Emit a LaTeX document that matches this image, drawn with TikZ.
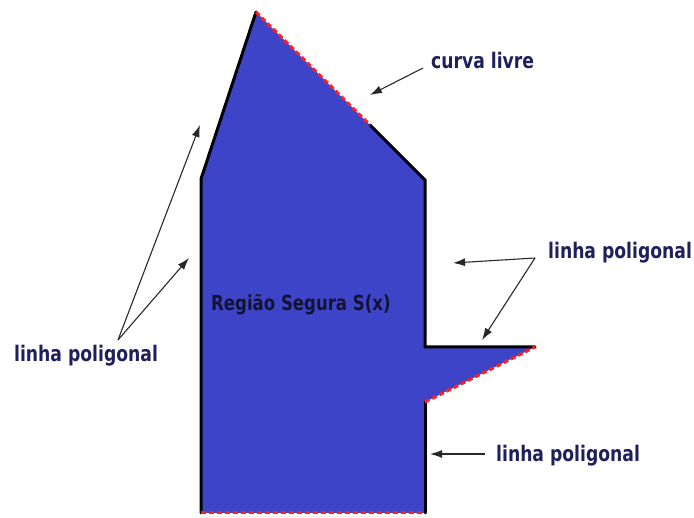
\documentclass[tikz,border=0pt]{standalone}
\usepackage{fontspec}
\setmainfont{DejaVu Sans}[FakeStretch=0.8]
\usetikzlibrary{arrows.meta}
\definecolor{regfill}{RGB}{61,68,200}
\definecolor{labtxt}{RGB}{30,32,90}
\definecolor{regtxt}{RGB}{20,20,50}
\definecolor{arrgray}{RGB}{40,40,40}
\definecolor{freered}{RGB}{255,30,30}
\tikzset{
  solidedge/.style={black, line width=3pt, line cap=round, line join=miter},
  freeedge/.style={freered, line width=3pt, dash pattern=on 5pt off 3pt},
  pointer/.style={arrgray, line width=1.1pt, -{Latex[length=12pt,width=8pt]}},
  lab/.style={text=labtxt, font=\bfseries\fontsize{21.5}{25}\selectfont, inner sep=0pt, anchor=base west},
}
\begin{document}
\begin{tikzpicture}[x=1pt,y=-1pt]
\useasboundingbox (0,0) rectangle (694,518);
% polygon vertices
\coordinate (apex) at (256,12);
\coordinate (shl) at (201,179);
\coordinate (bl) at (201,513);
\coordinate (br) at (425,513);
\coordinate (rl) at (425,402);
\coordinate (tip) at (535,347);
\coordinate (step) at (425,347);
\coordinate (ur) at (425,180);
\coordinate (sm) at (370,125);
\fill[regfill] (apex) -- (shl) -- (bl) -- (br) -- (rl) -- (tip) -- (step) -- (ur) -- (sm) -- cycle;
\draw[solidedge] (sm) -- (ur) -- (step) -- (tip);
\draw[solidedge] (apex) -- (shl) -- (bl);
\draw[solidedge] (br) -- (rl);
\draw[freeedge] (apex) -- (sm);
\draw[freeedge] (rl) -- (tip);
\draw[freeedge] (bl) -- (br);
% labels
\node[lab] (curva) at (431,69) {curva livre};
\node[lab] (lpr) at (548,259) {linha poligonal};
\node[lab] (lpl) at (14,362) {linha poligonal};
\node[lab] (lpb) at (496,462) {linha poligonal};
\node[text=regtxt, font=\bfseries\fontsize{20.7}{24}\selectfont, inner sep=0pt, anchor=base west] (reg) at (211,311) {Região Segura S(x)};
% arrow origins and targets
\coordinate (oc) at (423,68);
\coordinate (tc) at (370,95);
\coordinate (or) at (535,258);
\coordinate (tr1) at (453,263);
\coordinate (tr2) at (482,340);
\coordinate (ol) at (118,340);
\coordinate (tl1) at (200,125);
\coordinate (tl2) at (189,258);
\coordinate (ob) at (485,454);
\coordinate (tb) at (430,454);
\draw[pointer] (oc) -- (tc);
\draw[pointer] (or) -- (tr1);
\draw[pointer] (or) -- (tr2);
\draw[pointer] (ol) -- (tl1);
\draw[pointer] (ol) -- (tl2);
\draw[pointer] (ob) -- (tb);
\end{tikzpicture}
\end{document}
